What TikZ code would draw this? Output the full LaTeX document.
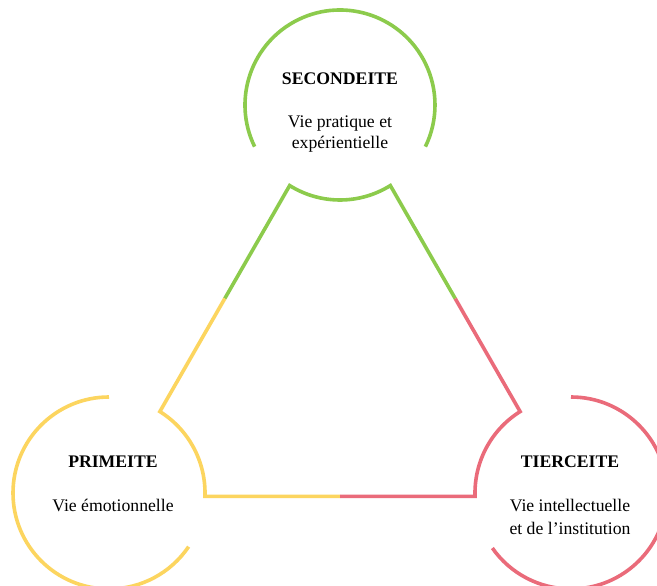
\documentclass[tikz,border=0pt]{standalone}
\usepackage{fontspec}
\setmainfont{Liberation Serif}
\usetikzlibrary{calc}
\definecolor{cgreen}{RGB}{140,203,76}
\definecolor{cyellow}{RGB}{252,213,95}
\definecolor{cred}{RGB}{234,107,122}
\tikzset{
  ring/.style={line width=3.6pt},
  ttl/.style={font=\bfseries\fontsize{17.7}{21}\selectfont, anchor=base, inner sep=0pt},
  txt/.style={font=\fontsize{17.7}{22}\selectfont, anchor=base, inner sep=0pt},
}
\begin{document}
\begin{tikzpicture}[x=1pt,y=1pt]
\clip (0,0) rectangle (657,586);
\fill[white] (0,0) rectangle (657,586);
% centres
\coordinate (T) at (340,481);
\coordinate (L) at (109,93);
\coordinate (R) at (571,93);
% junction points
\coordinate (Tl) at ($(T)+(238:95)$);
\coordinate (Tr) at ($(T)+(302:95)$);
\coordinate (Lr) at ($(L)+(58:96)$);
\coordinate (Rl) at ($(R)+(122:96)$);
\coordinate (Lb) at ($(L)+(-2:96)$);
\coordinate (Rb) at ($(R)+(182:96)$);
\coordinate (mL) at ($(Tl)!0.5!(Lr)$);
\coordinate (mR) at ($(Tr)!0.5!(Rl)$);
\coordinate (mB) at ($(Lb)!0.5!(Rb)$);
% outer arcs
\draw[ring,cgreen] ($(T)+(206:95)$) arc[start angle=206,end angle=-26,radius=95];
\draw[ring,cyellow] ($(L)+(90:96)$) arc[start angle=90,end angle=326,radius=96];
\draw[ring,cred] ($(R)+(90:96)$) arc[start angle=90,end angle=-145,radius=96];
% inner triangle
\draw[ring,cgreen,line join=miter] (mL) -- (Tl) arc[start angle=238,end angle=302,radius=95] -- (mR);
\draw[ring,cyellow,line join=miter] (mL) -- (Lr) arc[start angle=58,end angle=-2,radius=96] -- (mB);
\draw[ring,cred,line join=miter] (mR) -- (Rl) arc[start angle=122,end angle=182,radius=96] -- (mB);
% texts
\node[ttl] (t1) at (340,501) {SECONDEITE};
\node[txt] (t2) at (340,458) {Vie pratique et};
\node[txt] (t3) at (340,437) {expérientielle};
\node[ttl] (l1) at (113,118) {PRIMEITE};
\node[txt] (l2) at (113,74) {Vie émotionnelle};
\node[ttl] (r1) at (570,118) {TIERCEITE};
\node[txt] (r2) at (570,74) {Vie intellectuelle};
\node[txt] (r3) at (570,51) {et de l’institution};
\end{tikzpicture}
\end{document}
